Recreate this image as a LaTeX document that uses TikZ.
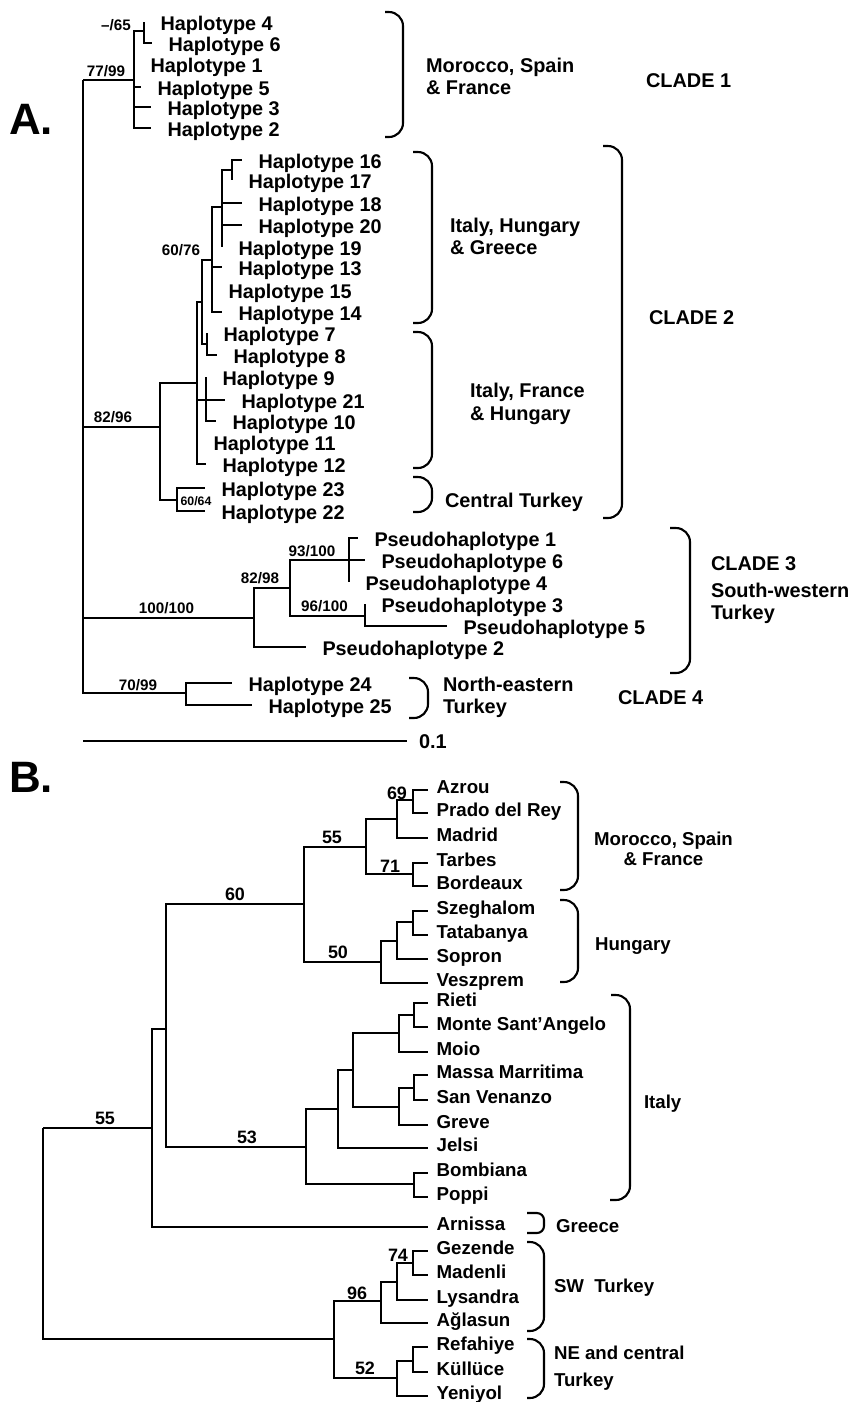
\documentclass[tikz,border=0pt]{standalone}
\usepackage{fontspec}
\setmainfont{Liberation Sans}
\tikzset{
  leafA/.style={font=\fontsize{5.63}{6}\selectfont\bfseries, anchor=base west, inner sep=0pt, xshift=4.4pt, yshift=-2.4pt},
  leafB/.style={font=\fontsize{5.32}{6}\selectfont\bfseries, anchor=base west, inner sep=0pt, xshift=2.15pt, yshift=-1.1pt},
  supA/.style={font=\fontsize{4.33}{5}\selectfont\bfseries, anchor=base, inner sep=0pt},
  supB/.style={font=\fontsize{5.1}{6}\selectfont\bfseries, anchor=base, inner sep=0pt},
  regA/.style={font=\fontsize{5.66}{6}\selectfont\bfseries, anchor=base west, inner sep=0pt},
  regB/.style={font=\fontsize{5.3}{6}\selectfont\bfseries, anchor=base west, inner sep=0pt},
  hdr/.style={font=\fontsize{12.5}{14}\selectfont\bfseries, anchor=base west, inner sep=0pt},
  brk/.style={rounded corners=4pt}
}
\begin{document}
\begin{tikzpicture}[x=0.01cm, y=-0.01cm, line width=0.6pt]
\useasboundingbox[fill=white] (0,0) rectangle (850,1402);

% A. haplotype tree
\node[hdr] (tagA) at (8,134) {A.};
\coordinate (rootA) at (83,80);
\coordinate (c1) at (134,80);
\coordinate (c1a) at (144,31);
\coordinate (h4) at (144,22);
\coordinate (h6) at (152,43);
\coordinate (h1) at (134,64);
\coordinate (h5) at (141,87);
\coordinate (h3) at (151,107);
\coordinate (h2) at (151,128);
\coordinate (c2) at (160,427);
\coordinate (c2a) at (197,383);
\coordinate (c2b) at (202,302);
\coordinate (c2c) at (212,260);
\coordinate (c2d) at (222,207);
\coordinate (c2e) at (232,170);
\coordinate (h16) at (242,160);
\coordinate (h17) at (232,180);
\coordinate (h18) at (242,203);
\coordinate (h20) at (242,225);
\coordinate (h19) at (222,247);
\coordinate (h13) at (222,267);
\coordinate (h15) at (212,290);
\coordinate (h14) at (222,312);
\coordinate (c2f) at (207,344);
\coordinate (h7) at (207,333);
\coordinate (h8) at (217,355);
\coordinate (c2g) at (206,400);
\coordinate (h9) at (206,377);
\coordinate (h21) at (225,400);
\coordinate (h10) at (216,421);
\coordinate (h11) at (197,442);
\coordinate (h12) at (206,464);
\coordinate (c2h) at (177,500);
\coordinate (h23) at (205,488);
\coordinate (h22) at (205,511);
\coordinate (c3) at (254,618);
\coordinate (c3a) at (290,588);
\coordinate (c3b) at (349,560);
\coordinate (p1) at (358,538);
\coordinate (p6) at (365,560);
\coordinate (p4) at (349,582);
\coordinate (c3c) at (365,616);
\coordinate (p3) at (365,604);
\coordinate (p5) at (447,626);
\coordinate (p2) at (306,647);
\coordinate (c4) at (186,693);
\coordinate (h24) at (232,683);
\coordinate (h25) at (252,705);

\draw (rootA) |- (c1) (rootA) |- (c2) (rootA) |- (c3) (rootA) |- (c4);
\draw (c1) |- (c1a) (c1a) |- (h4) (c1a) |- (h6) (c1) |- (h1) (c1) |- (h5) (c1) |- (h3) (c1) |- (h2);
\draw (c2) |- (c2a) (c2) |- (c2h) (c2h) |- (h23) (c2h) |- (h22);
\draw (c2a) |- (c2b) (c2b) |- (c2c) (c2b) |- (c2f) (c2f) |- (h7) (c2f) |- (h8);
\draw (c2c) |- (c2d) (c2d) |- (c2e) (c2e) |- (h16) (c2e) |- (h17);
\draw (c2d) |- (h18) (c2d) |- (h20) (c2d) |- (h19);
\draw (c2c) |- (h13) (c2c) |- (h15) (c2c) |- (h14);
\draw (c2a) |- (c2g) (c2g) |- (h9) (c2g) |- (h21) (c2g) |- (h10) (c2a) |- (h11) (c2a) |- (h12);
\draw (c3) |- (c3a) (c3) |- (p2) (c3a) |- (c3b) (c3a) |- (c3c);
\draw (c3b) |- (p1) (c3b) |- (p6) (c3b) |- (p4) (c3c) |- (p3) (c3c) |- (p5);
\draw (c4) |- (h24) (c4) |- (h25);

\node[leafA] (l4) at (h4) {Haplotype 4};
\node[leafA] (l6) at (h6) {Haplotype 6};
\node[leafA] (l1) at (h1) {Haplotype 1};
\node[leafA] (l5) at (h5) {Haplotype 5};
\node[leafA] (l3) at (h3) {Haplotype 3};
\node[leafA] (l2) at (h2) {Haplotype 2};
\node[leafA] (l16) at (h16) {Haplotype 16};
\node[leafA] (l17) at (h17) {Haplotype 17};
\node[leafA] (l18) at (h18) {Haplotype 18};
\node[leafA] (l20) at (h20) {Haplotype 20};
\node[leafA] (l19) at (h19) {Haplotype 19};
\node[leafA] (l13) at (h13) {Haplotype 13};
\node[leafA] (l15) at (h15) {Haplotype 15};
\node[leafA] (l14) at (h14) {Haplotype 14};
\node[leafA] (l7) at (h7) {Haplotype 7};
\node[leafA] (l8) at (h8) {Haplotype 8};
\node[leafA] (l9) at (h9) {Haplotype 9};
\node[leafA] (l21) at (h21) {Haplotype 21};
\node[leafA] (l10) at (h10) {Haplotype 10};
\node[leafA] (l11) at (h11) {Haplotype 11};
\node[leafA] (l12) at (h12) {Haplotype 12};
\node[leafA] (l23) at (h23) {Haplotype 23};
\node[leafA] (l22) at (h22) {Haplotype 22};
\node[leafA] (lp1) at (p1) {Pseudohaplotype 1};
\node[leafA] (lp6) at (p6) {Pseudohaplotype 6};
\node[leafA] (lp4) at (p4) {Pseudohaplotype 4};
\node[leafA] (lp3) at (p3) {Pseudohaplotype 3};
\node[leafA] (lp5) at (p5) {Pseudohaplotype 5};
\node[leafA] (lp2) at (p2) {Pseudohaplotype 2};
\node[leafA] (l24) at (h24) {Haplotype 24};
\node[leafA] (l25) at (h25) {Haplotype 25};

\node[supA] (s65) at (116,30.5) {\textendash/65};
\node[supA] (s77) at (106,76.5) {77/99};
\node[supA] (s60) at (181,255.5) {60/76};
\node[supA] (s82) at (113,422) {82/96};
\node[supA, font=\fontsize{3.5}{4}\selectfont\bfseries] (s6064) at (196,505.5) {60/64};
\node[supA] (s100) at (166.5,613.8) {100/100};
\node[supA] (s8298) at (260,583) {82/98};
\node[supA] (s93) at (312,556) {93/100};
\node[supA] (s96) at (324.5,611) {96/100};
\node[supA] (s70) at (138,690.5) {70/99};

\coordinate (sb0) at (83,741);
\coordinate (sb1) at (407,741);
\draw (sb0) -- (sb1);
\node[regA] (sbl) at (418,748) {0.1};

\draw[brk] (385,12) -- (403,12) -- (403,137) -- (385,137);
\draw[brk] (413,152) -- (432,152) -- (432,323) -- (413,323);
\draw[brk] (413,332) -- (432,332) -- (432,468) -- (413,468);
\draw[brk] (413,477) -- (432,477) -- (432,512) -- (413,512);
\draw[brk] (603,146) -- (622,146) -- (622,518) -- (603,518);
\draw[brk] (670,528) -- (690,528) -- (690,673) -- (670,673);
\draw[brk] (409,678) -- (428,678) -- (428,718) -- (409,718);

\node[regA] (mspA) at (425,72) {Morocco, Spain};
\node[regA] (mspB) at (425,94) {\& France};
\node[regA] (cl1) at (645,87) {CLADE 1};
\node[regA] (ihgA) at (449,232) {Italy, Hungary};
\node[regA] (ihgB) at (449,254.5) {\& Greece};
\node[regA] (ifhA) at (469,397.7) {Italy, France};
\node[regA] (ifhB) at (469,420) {\& Hungary};
\node[regA] (ctA) at (444,507) {Central Turkey};
\node[regA] (cl2) at (648,324) {CLADE 2};
\node[regA] (cl3) at (710,570.7) {CLADE 3};
\node[regA] (swA) at (710,597.3) {South-western};
\node[regA] (swB) at (710,619.3) {Turkey};
\node[regA] (neA) at (442,691) {North-eastern};
\node[regA] (neB) at (442,713) {Turkey};
\node[regA] (cl4) at (617,704) {CLADE 4};

% B. population tree
\node[hdr] (tagB) at (8,792) {B.};
\coordinate (rootB) at (43,1128);
\coordinate (b1) at (152,1128);
\coordinate (b2) at (166,1029);
\coordinate (b3) at (304,904);
\coordinate (b4) at (306,1147);
\coordinate (b5) at (366,847);
\coordinate (b6) at (381,962);
\coordinate (b7) at (397,819);
\coordinate (b8) at (413,800);
\coordinate (b9) at (413,874);
\coordinate (b10) at (397,941);
\coordinate (b11) at (413,922);
\coordinate (b12) at (338,1109);
\coordinate (b13) at (414,1184);
\coordinate (b14) at (353,1070);
\coordinate (b15) at (399,1033);
\coordinate (b16) at (399,1107);
\coordinate (b17) at (414,1015);
\coordinate (b18) at (414,1088);
\coordinate (bsw) at (334,1339);
\coordinate (b20) at (381,1301);
\coordinate (b21) at (397,1282);
\coordinate (b22) at (413,1263);
\coordinate (b23) at (397,1378);
\coordinate (b24) at (413,1361);
\coordinate (azr) at (428,790);
\coordinate (pdr) at (428,813);
\coordinate (mad) at (428,838);
\coordinate (tar) at (428,863);
\coordinate (bor) at (428,886);
\coordinate (sze) at (428,911);
\coordinate (tat) at (428,935);
\coordinate (sop) at (428,959);
\coordinate (ves) at (428,983);
\coordinate (rie) at (428,1003);
\coordinate (msa) at (428,1027);
\coordinate (moi) at (428,1052);
\coordinate (mas) at (428,1075);
\coordinate (sve) at (428,1100);
\coordinate (gre) at (428,1125);
\coordinate (jel) at (428,1148);
\coordinate (bom) at (428,1173);
\coordinate (pop) at (428,1197);
\coordinate (arn) at (428,1227);
\coordinate (gez) at (428,1251);
\coordinate (mdn) at (428,1275);
\coordinate (lys) at (428,1300);
\coordinate (agl) at (428,1323);
\coordinate (ref) at (428,1347);
\coordinate (kul) at (428,1372);
\coordinate (yen) at (428,1396);

\draw (rootB) |- (b1) (rootB) |- (bsw) (b1) |- (b2) (b1) |- (arn);
\draw (b2) |- (b3) (b2) |- (b4) (b3) |- (b5) (b3) |- (b6);
\draw (b5) |- (b7) (b5) |- (b9) (b7) |- (b8) (b7) |- (mad) (b8) |- (azr) (b8) |- (pdr);
\draw (b9) |- (tar) (b9) |- (bor);
\draw (b6) |- (b10) (b6) |- (ves) (b10) |- (b11) (b10) |- (sop) (b11) |- (sze) (b11) |- (tat);
\draw (b4) |- (b12) (b4) |- (b13) (b13) |- (bom) (b13) |- (pop);
\draw (b12) |- (b14) (b12) |- (jel) (b14) |- (b15) (b14) |- (b16);
\draw (b15) |- (b17) (b15) |- (moi) (b17) |- (rie) (b17) |- (msa);
\draw (b16) |- (b18) (b16) |- (gre) (b18) |- (mas) (b18) |- (sve);
\draw (bsw) |- (b20) (bsw) |- (b23) (b20) |- (b21) (b20) |- (agl);
\draw (b21) |- (b22) (b21) |- (lys) (b22) |- (gez) (b22) |- (mdn);
\draw (b23) |- (b24) (b23) |- (yen) (b24) |- (ref) (b24) |- (kul);

\node[leafB] (lazr) at (azr) {Azrou};
\node[leafB] (lpdr) at (pdr) {Prado del Rey};
\node[leafB] (lmad) at (mad) {Madrid};
\node[leafB] (ltar) at (tar) {Tarbes};
\node[leafB] (lbor) at (bor) {Bordeaux};
\node[leafB] (lsze) at (sze) {Szeghalom};
\node[leafB] (ltat) at (tat) {Tatabanya};
\node[leafB] (lsop) at (sop) {Sopron};
\node[leafB] (lves) at (ves) {Veszprem};
\node[leafB] (lrie) at (rie) {Rieti};
\node[leafB] (lmsa) at (msa) {Monte Sant’Angelo};
\node[leafB] (lmoi) at (moi) {Moio};
\node[leafB] (lmas) at (mas) {Massa Marritima};
\node[leafB] (lsve) at (sve) {San Venanzo};
\node[leafB] (lgre) at (gre) {Greve};
\node[leafB] (ljel) at (jel) {Jelsi};
\node[leafB] (lbom) at (bom) {Bombiana};
\node[leafB] (lpop) at (pop) {Poppi};
\node[leafB] (larn) at (arn) {Arnissa};
\node[leafB] (lgez) at (gez) {Gezende};
\node[leafB] (lmdn) at (mdn) {Madenli};
\node[leafB] (llys) at (lys) {Lysandra};
\node[leafB] (lagl) at (agl) {Ağlasun};
\node[leafB] (lref) at (ref) {Refahiye};
\node[leafB] (lkul) at (kul) {Küllüce};
\node[leafB] (lyen) at (yen) {Yeniyol};

\node[supB] (t55a) at (105,1124) {55};
\node[supB] (t60) at (235,900.7) {60};
\node[supB] (t53) at (247,1143) {53};
\node[supB] (t55b) at (332,843.7) {55};
\node[supB] (t50) at (338,958) {50};
\node[supB] (t69) at (397,799) {69};
\node[supB] (t71) at (390,872.4) {71};
\node[supB] (t96) at (357,1299) {96};
\node[supB] (t52) at (365,1374.7) {52};
\node[supB] (t74) at (398,1261.4) {74};

\draw[brk] (560,782) -- (578,782) -- (578,890) -- (560,890);
\draw[brk] (560,900) -- (578,900) -- (578,982) -- (560,982);
\draw[brk] (611,995) -- (630,995) -- (630,1200) -- (610,1200);
\draw[brk, rounded corners=2pt] (527,1213) -- (544,1213) -- (544,1233) -- (527,1233);
\draw[brk] (527,1242) -- (544,1242) -- (544,1331) -- (527,1331);
\draw[brk] (527,1339) -- (544,1339) -- (544,1398) -- (527,1398);

\node[regB, anchor=base] (bmsA) at (663.5,845) {Morocco, Spain};
\node[regB, anchor=base] (bmsB) at (663.5,865) {\& France};
\node[regB] (bhun) at (594,950) {Hungary};
\node[regB] (bita) at (643,1108) {Italy};
\node[regB] (bgre) at (555,1232) {Greece};
\node[regB] (bsw) at (553,1292.6) {SW\ \ Turkey};
\node[regB] (bneA) at (553,1359.6) {NE and central};
\node[regB] (bneB) at (553,1386) {Turkey};
\end{tikzpicture}
\end{document}
